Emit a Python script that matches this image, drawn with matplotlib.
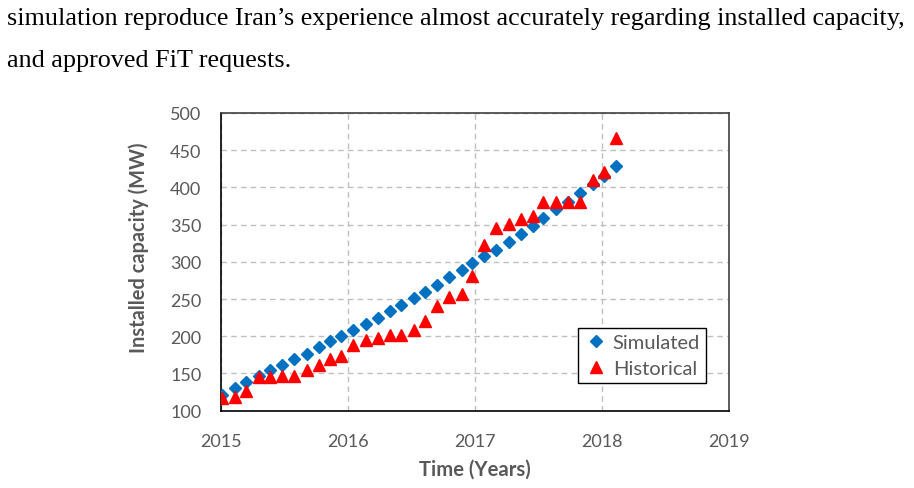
import matplotlib
matplotlib.use('Agg')
from matplotlib import pyplot as plt
from matplotlib.ticker import MultipleLocator

# time in years
time_years = [2015.01, 2015.11, 2015.20, 2015.30, 2015.39, 2015.48, 2015.58, 2015.68,
              2015.77, 2015.86, 2015.95, 2016.04, 2016.14, 2016.24, 2016.33, 2016.42,
              2016.52, 2016.61, 2016.70, 2016.80, 2016.90, 2016.98, 2017.07, 2017.17,
              2017.27, 2017.36, 2017.46, 2017.54, 2017.64, 2017.73, 2017.83, 2017.93,
              2018.02, 2018.11]
simulated = [121, 130, 139, 146, 154, 161, 169, 176, 185, 193, 201, 208, 217, 225,
             234, 242, 251, 260, 269, 279, 289, 298, 308, 316, 327, 337, 348, 359,
             371, 381, 393, 404, 416, 429]
historical = [117, 118, 127, 145, 145, 146, 146, 155, 161, 169, 174, 188, 195, 197,
              202, 202, 209, 221, 240, 253, 257, 281, 322, 346, 351, 357, 361, 381,
              381, 381, 381, 410, 421, 467]
x_ticks = [2015, 2016, 2017, 2018, 2019]

grey = '#595959'
fig = plt.figure(figsize=(9.14, 4.89), dpi=100)

# paragraph text above the chart
fig.text(0.008, 0.962, "simulation reproduce Iran\u2019s experience almost accurately regarding installed capacity,",
         family='Liberation Serif', fontsize=18.8, va='center', ha='left', color='black')
fig.text(0.008, 0.876, "and approved FiT requests.",
         family='Liberation Serif', fontsize=18.8, va='center', ha='left', color='black')

ax = fig.add_axes([0.2415, 0.1581, 0.5561, 0.6088])
ax.plot(time_years, simulated, linestyle='none', marker='D', markersize=6,
        color='#0070C0', label='Simulated', zorder=3)
ax.plot(time_years, historical, linestyle='none', marker='^', markersize=8.5,
        color='#FF0000', label='Historical', zorder=4)

ax.set_xlim(2015, 2019)
ax.set_ylim(100, 500)
ax.set_xticks(x_ticks)
ax.yaxis.set_major_locator(MultipleLocator(50))
ax.grid(True, color='#BFBFBF', linestyle=(0, (4, 3)), linewidth=1)
ax.set_axisbelow(True)
ax.tick_params(length=0, labelsize=13, labelcolor=grey)
ax.tick_params(axis='y', pad=14)
ax.tick_params(axis='x', pad=16)
for lab in ax.get_xticklabels() + ax.get_yticklabels():
    lab.set_family('Lato')

for side in ['left', 'bottom']:
    ax.spines[side].set_color('black')
    ax.spines[side].set_linewidth(1.2)
for side in ['top', 'right']:
    ax.spines[side].set_color('#404040')
    ax.spines[side].set_linewidth(1.2)

ax.set_xlabel('Time (Years)', family='Lato', fontsize=14.6, fontweight='bold', color=grey)
ax.set_ylabel('Installed capacity (MW)', family='Lato', fontsize=14.4, fontweight='bold', color=grey)
ax.xaxis.set_label_coords(0.5, -0.162)
ax.yaxis.set_label_coords(-0.142, 0.55)

leg = ax.legend(loc='lower right', bbox_to_anchor=(0.955, 0.093), fancybox=False,
                framealpha=1, edgecolor='black', prop={'family': 'Lato', 'size': 14.5},
                handletextpad=0.25, borderpad=0.3, labelspacing=0.45, handlelength=1.2,
                borderaxespad=0)
for t in leg.get_texts():
    t.set_color(grey)
leg.get_frame().set_linewidth(1.0)

fig.savefig('out.png', dpi=100)
